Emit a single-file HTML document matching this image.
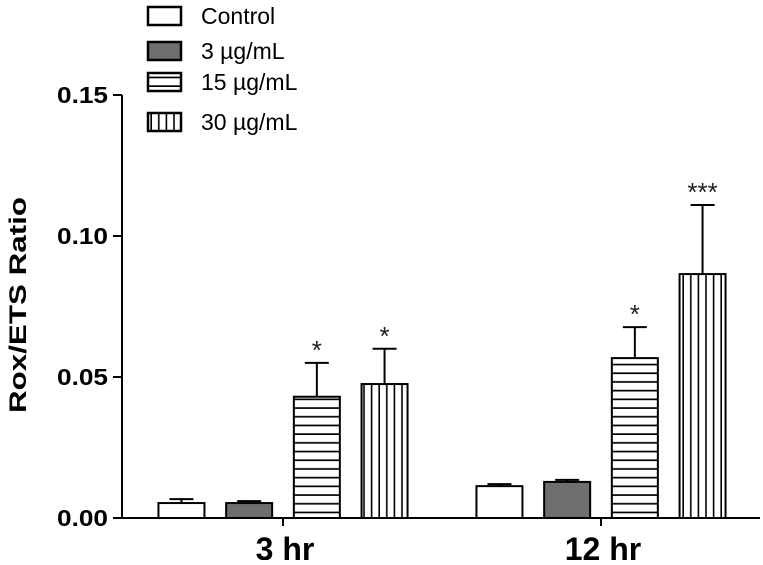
<!DOCTYPE html>
<html><head><meta charset="utf-8"><style>
body{margin:0;background:#fff}
svg text{font-family:"Liberation Sans",Arial,sans-serif}
</style></head><body>
<svg id="c" width="763" height="560" xmlns="http://www.w3.org/2000/svg">
<defs>
<pattern id="hz" patternUnits="userSpaceOnUse" width="10" height="8.7"><rect width="10" height="8.7" fill="#fff"/><line x1="0" y1="8" x2="10" y2="8" stroke="#000" stroke-width="2"/></pattern>
<pattern id="vt" patternUnits="userSpaceOnUse" width="7.6" height="10"><rect width="7.6" height="10" fill="#fff"/><line x1="7" y1="0" x2="7" y2="10" stroke="#000" stroke-width="2"/></pattern>
</defs>
<g id="plot"></g>
</svg>
<script>
const groups=["3 hr","12 hr"];
const seriesNames=["Control","3 \u00b5g/mL","15 \u00b5g/mL","30 \u00b5g/mL"];
const means3hr=[0.0053,0.0053,0.043,0.0475];
const means12hr=[0.0113,0.0128,0.0567,0.0865];
const err3hr=[0.0014,0.0007,0.012,0.0125];
const err12hr=[0.0007,0.0007,0.011,0.0245];
const stars3hr=["","","*","*"];
const stars12hr=["","","*","***"];
const yTicks=[0,0.05,0.10,0.15];
const yTickLabels=["0.00","0.05","0.10","0.15"];

const NS="http://www.w3.org/2000/svg";
const g=document.getElementById('plot');
const x0=122,y0=518,yTop=95,yMax=0.15;
const ys=v=>y0-(v/yMax)*(y0-yTop);
const groupX=[283,601],barW=46,step=67.7;
const barX=(gi,si)=>groupX[gi]+(si-1.5)*step-barW/2;
const fills=["#fff","#6e6e6e","url(#hz)","url(#vt)"];
function mk(t,a){const e=document.createElementNS(NS,t);for(const k in a)e.setAttribute(k,a[k]);g.appendChild(e);return e;}

let e=mk('line',{x1:x0,y1:yTop,x2:x0,y2:y0+1,stroke:'#000','stroke-width':2});


e=mk('line',{x1:x0-1,y1:y0,x2:760,y2:y0,stroke:'#000','stroke-width':2});


yTicks.forEach((v,i)=>{
 let t=mk('line',{x1:x0-9,y1:ys(v),x2:x0,y2:ys(v),stroke:'#000','stroke-width':2});
 
 
 let l=mk('text',{x:57,y:ys(v)+8,'font-size':23,'font-weight':'bold',textLength:51,lengthAdjust:'spacingAndGlyphs'});
 l.textContent=yTickLabels[i];
 
 
});
let yt=mk('text',{x:0,y:0,transform:'translate(26,305) rotate(-90)','text-anchor':'middle','font-size':24,'font-weight':'bold',textLength:216,lengthAdjust:'spacingAndGlyphs'});
yt.textContent="Rox/ETS Ratio";



const means=[means3hr,means12hr],errs=[err3hr,err12hr],stars=[stars3hr,stars12hr];
groups.forEach((gn,gi)=>{
 let t=mk('line',{x1:groupX[gi],y1:y0,x2:groupX[gi],y2:y0+8,stroke:'#000','stroke-width':2});
 
 
 let l=mk('text',{x:groupX[gi]+2,y:560,'text-anchor':'middle','font-size':32,'font-weight':'bold'});
 l.textContent=gn;
 
 
 means[gi].forEach((m,si)=>{
  const bx=barX(gi,si),cx=bx+barW/2,top=ys(m),et=ys(m+errs[gi][si]);
  let w=mk('line',{x1:cx,y1:top,x2:cx,y2:et,stroke:'#000','stroke-width':2});
  
  
  let c=mk('line',{x1:cx-12,y1:et,x2:cx+12,y2:et,stroke:'#000','stroke-width':2});
  
  
  let r=mk('rect',{x:bx,y:top,width:barW,height:y0-top,fill:fills[si],stroke:'#000','stroke-width':2});
  
  
  if(stars[gi][si]){
   let s=mk('text',{x:cx,y:et-4,'text-anchor':'middle','font-size':26,fill:'#222'});
   s.textContent=stars[gi][si];
   
   
  }
 });
});
const legY=[16,51,82,122];
seriesNames.forEach((n,i)=>{
 let r=mk('rect',{x:148,y:legY[i]-9,width:33,height:18,fill:fills[i],stroke:'#000','stroke-width':2.5});
 
 
 let t=mk('text',{x:201,y:legY[i]+8,'font-size':23});
 t.textContent=n;
 
 
});
</script>
</body></html>
